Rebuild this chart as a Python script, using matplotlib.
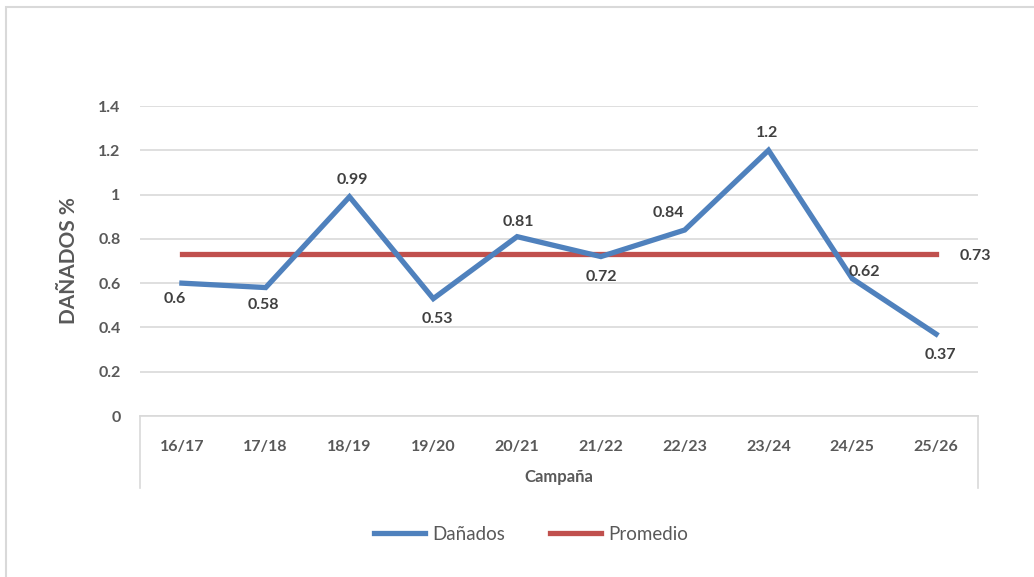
import matplotlib

matplotlib.use("Agg")
import matplotlib.pyplot as plt
from matplotlib.lines import Line2D
from matplotlib.patches import Rectangle

plt.rcParams["font.family"] = ["Lato", "DejaVu Sans"]

CAMPAIGNS = ["16/17", "17/18", "18/19", "19/20", "20/21",
             "21/22", "22/23", "23/24", "24/25", "25/26"]
DAMAGED = [0.6, 0.58, 0.99, 0.53, 0.81, 0.72, 0.84, 1.2, 0.62, 0.37]
AVERAGE = 0.73
Y_TICKS = [0, 0.2, 0.4, 0.6, 0.8, 1, 1.2, 1.4]
Y_TICK_LABELS = ["0", "0.2", "0.4", "0.6", "0.8", "1", "1.2", "1.4"]

# label offsets in pixels, relative to each point
LABEL_OFFSETS = [(-7, -16), (-2, -17), (3, 17), (4, -20), (1, 15),
                 (1, -20), (-16, 17), (-1, 17), (12, 7), (4, -21)]

BLUE = "#4F81BD"
RED = "#C0504D"
GRID = "#D9D9D9"
TICK_TEXT = "#595959"
LABEL_TEXT = "#404040"

W, H = 1034, 577
fig = plt.figure(figsize=(W / 100, H / 100), dpi=100)

# outer chart border (clipped at the right and bottom edges)
fig.patches.append(Rectangle((6 / W, -0.1), 1.2, 1 - 7 / H + 0.1,
                             transform=fig.transFigure, fill=False,
                             edgecolor=GRID, linewidth=1.5))

ax = fig.add_axes([140 / W, 161 / H, 838 / W, 310 / H])
x = list(range(len(CAMPAIGNS)))

ax.plot(x, DAMAGED, color=BLUE, linewidth=3.8, solid_joinstyle="miter",
        label="Dañados", zorder=3)
ax.plot(x, [AVERAGE] * len(x), color=RED, linewidth=3.8,
        label="Promedio", zorder=2)

ax.set_xlim(-0.5, len(x) - 0.5)
ax.set_ylim(0, 1.4)
ax.set_yticks(Y_TICKS)
ax.set_yticklabels(Y_TICK_LABELS)
ax.set_xticks(x)
ax.set_xticklabels(CAMPAIGNS)
ax.grid(axis="y", color=GRID, linewidth=1.2)
ax.set_axisbelow(True)
for side in ("left", "right", "top"):
    ax.spines[side].set_visible(False)
ax.spines["bottom"].set_color(GRID)
ax.spines["bottom"].set_linewidth(1.2)
ax.tick_params(axis="both", length=0, colors=TICK_TEXT, labelsize=11.5)
ax.tick_params(axis="x", pad=17)
ax.tick_params(axis="y", pad=14)
for lbl in ax.get_xticklabels() + ax.get_yticklabels():
    lbl.set_fontweight("bold")

# vertical edges of the category axis box
for xf in (140 / W, 978 / W):
    fig.lines.append(Line2D([xf, xf], [161 / H, 89 / H],
                            transform=fig.transFigure, color=GRID,
                            linewidth=1.2))

for xi, val, (dx, dy) in zip(x, DAMAGED, LABEL_OFFSETS):
    ax.annotate(f"{val:g}", (xi, val), xytext=(dx, dy),
                textcoords="offset pixels", ha="center", va="center",
                fontsize=11.5, fontweight="bold", color=LABEL_TEXT)
ax.annotate(f"{AVERAGE:g}", (x[-1], AVERAGE), xytext=(39, -2),
            textcoords="offset pixels", ha="center", va="center",
            fontsize=11.5, fontweight="bold", color=LABEL_TEXT,
            annotation_clip=False)

ax.set_ylabel("DAÑADOS %", fontsize=15, fontweight="bold",
              color=TICK_TEXT, labelpad=14)
fig.text(559 / W, 1 - 477 / H, "Campaña", ha="center", va="center",
         fontsize=12, fontweight="bold", color=TICK_TEXT)

fig.legend(loc="center", bbox_to_anchor=(531 / W, 1 - 534 / H), ncol=2,
           frameon=False, fontsize=13.5, labelcolor=TICK_TEXT,
           handlelength=2.7, handletextpad=0.4, columnspacing=2.4)

fig.savefig("out.png", dpi=100)
